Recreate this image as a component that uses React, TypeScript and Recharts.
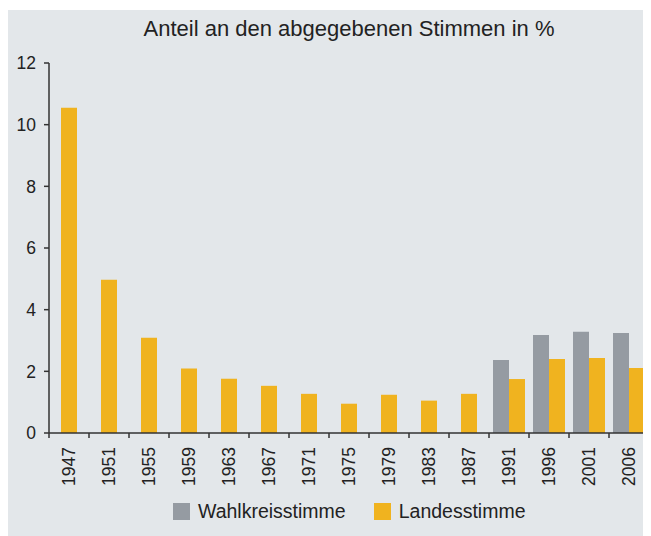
import { BarChart, Bar, XAxis, YAxis, Legend } from "recharts";

const years = ["1947", "1951", "1955", "1959", "1963", "1967", "1971", "1975", "1979", "1983", "1987", "1991", "1996", "2001", "2006"];
const wahlkreisstimme = [null, null, null, null, null, null, null, null, null, null, null, 2.37, 3.18, 3.28, 3.24];
const landesstimme = [10.55, 4.97, 3.09, 2.09, 1.76, 1.53, 1.27, 0.95, 1.24, 1.05, 1.27, 1.75, 2.4, 2.43, 2.11];
const yTicks = [0, 2, 4, 6, 8, 10, 12];

// years without a Wahlkreisstimme get a single centred bar, the rest a pair
const data = years.map((year, i) => ({
  year,
  wahl: wahlkreisstimme[i],
  landesPair: wahlkreisstimme[i] == null ? null : landesstimme[i],
  landesSingle: wahlkreisstimme[i] == null ? landesstimme[i] : null,
}));

const GRAY = "#959ba2";
const ORANGE = "#f0b31f";
const TEXT = "#222";
const FONT = "'Liberation Sans', Arial, sans-serif";

const YearTick = (props: any) => {
  const { x, y, payload, index } = props;
  const half = 20;
  return (
    <g>
      <line x1={x - half} x2={x - half} y1={y} y2={y + 5} stroke="#333" strokeWidth={1.5} />
      {index === years.length - 1 && <line x1={x + half} x2={x + half} y1={y} y2={y + 5} stroke="#333" strokeWidth={1.5} />}
      <text
        x={x}
        y={y + 14}
        dy="0.35em"
        transform={`rotate(-90, ${x}, ${y + 14})`}
        textAnchor="end"
        fontSize={17.5}
        fill={TEXT}
        fontFamily={FONT}
      >
        {payload.value}
      </text>
    </g>
  );
};

const LegendContent = () => (
  <div style={{ display: "flex", alignItems: "center", height: 17, fontFamily: FONT, fontSize: 19.5, color: TEXT }}>
    <span style={{ width: 17, height: 17, background: GRAY, display: "inline-block", marginRight: 8 }} />
    <span style={{ lineHeight: "17px", marginRight: 28 }}>Wahlkreisstimme</span>
    <span style={{ width: 17, height: 17, background: ORANGE, display: "inline-block", marginRight: 8 }} />
    <span style={{ lineHeight: "17px" }}>Landesstimme</span>
  </div>
);

export default function App() {
  return (
    <div style={{ marginTop: 2, width: 643, height: 526, background: "#e3e7ea", position: "relative", fontFamily: FONT }}>
      <div
        style={{
          position: "absolute",
          left: 41,
          width: 600,
          top: 6,
          textAlign: "center",
          fontSize: 22,
          color: TEXT,
        }}
      >
        Anteil an den abgegebenen Stimmen in %
      </div>
      <BarChart width={643} height={526} data={data} margin={{ top: 53, right: 2, left: 0, bottom: 0 }} barGap={0}>
        <XAxis
          xAxisId="a"
          dataKey="year"
          interval={0}
          tickLine={false}
          tickSize={0}
          tickMargin={0}
          height={86}
          axisLine={{ stroke: "#333", strokeWidth: 1.5 }}
          tick={<YearTick />}
        />
        <XAxis xAxisId="b" dataKey="year" hide />
        <YAxis
          domain={[0, 12]}
          ticks={yTicks}
          width={41}
          tickSize={5}
          tickMargin={8}
          axisLine={{ stroke: "#333", strokeWidth: 1.5 }}
          tickLine={{ stroke: "#333", strokeWidth: 1.5 }}
          tick={{ fontSize: 17.5, fill: TEXT, fontFamily: FONT }}
        />
        <Legend content={<LegendContent />} wrapperStyle={{ left: 165, bottom: 16, width: "auto" }} />
        <Bar xAxisId="b" dataKey="wahl" name="Wahlkreisstimme" fill={GRAY} barSize={16} isAnimationActive={false} />
        <Bar xAxisId="b" dataKey="landesPair" name="Landesstimme" fill={ORANGE} barSize={16} isAnimationActive={false} />
        <Bar xAxisId="a" dataKey="landesSingle" name="Landesstimme" fill={ORANGE} barSize={16} legendType="none" isAnimationActive={false} />
      </BarChart>
    </div>
  );
}
